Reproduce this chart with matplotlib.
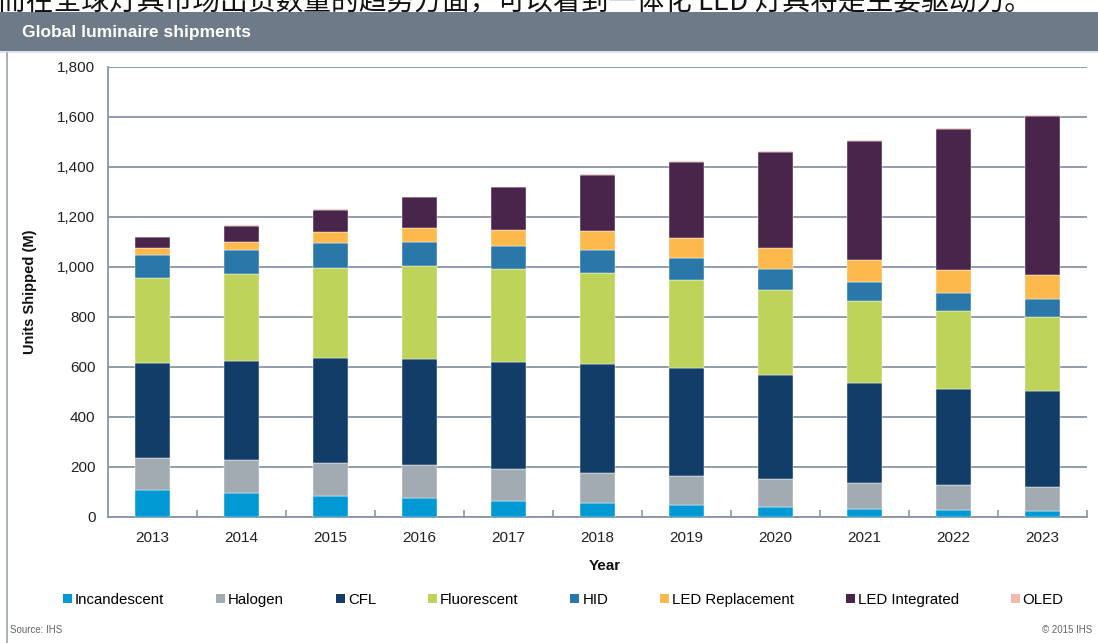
import matplotlib.pyplot as plt
import numpy as np
from matplotlib.patches import Rectangle, Patch
from matplotlib.lines import Line2D

plt.rcParams['font.family'] = ['Liberation Sans', 'DejaVu Sans']

# data (units shipped, millions)
years = ['2013', '2014', '2015', '2016', '2017', '2018', '2019', '2020', '2021', '2022', '2023']
incandescent = [109, 96, 86, 76, 65, 56, 49, 40, 33, 29, 24]
halogen = [127, 131, 132, 133, 127, 122, 117, 112, 105, 99, 98]
cfl = [382, 396, 418, 423, 430, 435, 430, 416, 400, 386, 383]
fluorescent = [338, 349, 362, 373, 370, 365, 353, 340, 326, 311, 297]
hid = [93, 95, 98, 97, 94, 92, 88, 84, 78, 72, 71]
led_replacement = [27, 34, 43, 54, 63, 74, 81, 84, 87, 93, 96]
led_integrated = [45, 64, 91, 123, 170, 226, 302, 383, 474, 561, 636]
oled = [1, 2, 2, 3, 3, 4, 4, 4, 5, 5, 5]

series_names = ['Incandescent', 'Halogen', 'CFL', 'Fluorescent', 'HID',
                'LED Replacement', 'LED Integrated', 'OLED']
series_vals = [incandescent, halogen, cfl, fluorescent, hid,
               led_replacement, led_integrated, oled]
colors = ['#0099d4', '#a2abb1', '#123d68', '#bed35a', '#2a78a9',
          '#fdb94c', '#4a254b', '#f4b9a8']

W, H = 1098, 643
fig = plt.figure(figsize=(W / 100, H / 100), dpi=100)

# chinese sentence, clipped by the top edge as in the source screenshot
fig.text(-0.002, 1 - 10 / H, '而在全球灯具市场出货数量的趋势方面，可以看到一体化 LED 灯具将是主要驱动力。',
         fontsize=20, family=['Noto Sans CJK SC', 'DejaVu Sans'], color='#111111',
         ha='left', va='baseline')

# header bar
fig.add_artist(Rectangle((0, 1 - 50.7 / H), 1, 38.4 / H, transform=fig.transFigure,
                         facecolor='#6f7a88', edgecolor='none'))
fig.add_artist(Rectangle((0, 1 - 53 / H), 1, 2.3 / H, transform=fig.transFigure,
                         facecolor='#dfe5ec', edgecolor='none'))
fig.add_artist(Line2D([7.3 / W, 7.3 / W], [0, 1 - 53 / H], transform=fig.transFigure,
                      color='#9aa3ad', lw=1.2))
fig.text(22 / W, 1 - 32 / H, 'Global luminaire shipments', color='white',
         fontsize=12.5, fontweight='bold', va='center', ha='left')

ax = fig.add_axes([108 / W, 1 - 517 / H, 979 / W, 450 / H])
x = np.arange(len(years))
bottom = np.zeros(len(years))
for name, vals, c in zip(series_names, series_vals, colors):
    ax.bar(x, vals, 0.4, bottom=bottom, color=c, label=name,
           edgecolor='white', linewidth=0.3, zorder=3)
    bottom += np.array(vals)

ax.set_xlim(-0.5, len(years) - 0.5)
ax.set_ylim(0, 1800)
ax.set_yticks(range(0, 1801, 200))
ax.set_yticklabels([f'{v:,}' for v in range(0, 1801, 200)])
ax.grid(axis='y', color='#8a95a2', linewidth=1.3, zorder=0)
ax.set_xticks(x)
ax.set_xticklabels(years)
ax.set_xticks(np.arange(0.5, len(years), 1), minor=True)
ax.tick_params(axis='x', which='major', length=0, pad=10, labelsize=11, colors='#222222')
ax.tick_params(axis='x', which='minor', length=5, direction='in', color='#8a95a2', width=1.2)
ax.tick_params(axis='y', length=0, pad=9, labelsize=11, colors='#222222')
for s in ['top', 'right']:
    ax.spines[s].set_visible(False)
for s in ['left', 'bottom']:
    ax.spines[s].set_color('#8a95a2')
    ax.spines[s].set_linewidth(1.3)

fig.text(30 / W, 1 - 292 / H, 'Units Shipped (M)', rotation=90, fontsize=10.5,
         fontweight='bold', ha='center', va='center', color='#111111')
fig.text(605 / W, 1 - 566 / H, 'Year', fontsize=11, fontweight='bold',
         ha='center', va='center', color='#111111')

handles = [Patch(facecolor=c, edgecolor='none') for c in colors]
fig.legend(handles, series_names, ncol=8, loc='center', bbox_to_anchor=(0.513, 1 - 600 / H),
           frameon=False, fontsize=10.8, handlelength=0.6, handleheight=0.6,
           handletextpad=0.2, columnspacing=3.45)

fig.text(10 / W, 1 - 630 / H, 'Source: IHS', fontsize=7, color='#666666', va='center')
fig.text(1092 / W, 1 - 630 / H, '© 2015 IHS', fontsize=7, color='#666666', va='center', ha='right')

fig.savefig('out.png', dpi=100)
